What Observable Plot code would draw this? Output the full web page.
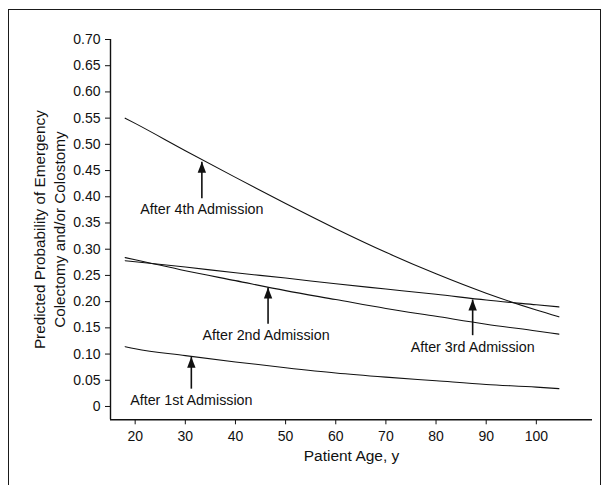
<!DOCTYPE html>
<html>
<head>
<meta charset="utf-8">
<script src="https://cdn.jsdelivr.net/npm/d3@7"></script>
<script src="https://cdn.jsdelivr.net/npm/@observablehq/plot@0.6"></script>
<style>
  html, body { margin: 0; padding: 0; background: #fff; overflow: hidden; }
  #wrap { position: relative; width: 610px; height: 485px; }
  #wrap svg { display: block; }
  #border { position: absolute; left: 8px; top: 9px; width: 593px; height: 600px;
            border: 1.5px solid #1a1a1a; pointer-events: none; box-sizing: border-box; }
</style>
</head>
<body>
<div id="wrap"><div id="border"></div></div>
<script>
// Patient age (years) at which the curves were read
const ages = [18, 20, 30, 40, 50, 60, 70, 80, 90, 100, 104.5];

// Predicted probability per admission curve
const after1st = [0.114, 0.110, 0.097, 0.085, 0.074, 0.064, 0.056, 0.049, 0.042, 0.037, 0.034];
const after2nd = [0.284, 0.280, 0.259, 0.240, 0.221, 0.204, 0.187, 0.172, 0.157, 0.144, 0.138];
const after3rd = [0.278, 0.276, 0.266, 0.255, 0.245, 0.234, 0.224, 0.214, 0.203, 0.194, 0.190];
const after4th = [0.550, 0.540, 0.488, 0.437, 0.387, 0.339, 0.294, 0.253, 0.216, 0.184, 0.171];

const seriesNames = ["After 1st Admission", "After 2nd Admission", "After 3rd Admission", "After 4th Admission"];
const seriesValues = [after1st, after2nd, after3rd, after4th];

// Annotation arrows: age of arrow, value at arrow tip, value at arrow base
const arrowAge   = [31.2, 46.5, 87.3, 33.3];
const arrowTip   = [0.095, 0.227, 0.204, 0.467];
const arrowBase  = [0.034, 0.158, 0.136, 0.397];
const labelAge   = [31.2, 46.1, 87.3, 33.3];
const labelValue = [0.012, 0.135, 0.113, 0.375];

// Axis ticks
const xTicks = [20, 30, 40, 50, 60, 70, 80, 90, 100];
const yTicks = [0, 0.05, 0.10, 0.15, 0.20, 0.25, 0.30, 0.35, 0.40, 0.45, 0.50, 0.55, 0.60, 0.65, 0.70];
const xDomain = [15.08, 111.2];
const yDomain = [-0.0254, 0.70];

const xTitle = "Patient Age, y";
const yTitle = "Predicted Probability of Emergency\nColectomy and/or Colostomy";

const lineData = seriesNames.flatMap((name, i) =>
  ages.map((a, j) => ({series: name, age: a, p: seriesValues[i][j]})));

const arrows = seriesNames.map((name, i) => ({
  name, age: arrowAge[i], tip: arrowTip[i], base: arrowBase[i],
  lx: labelAge[i], ly: labelValue[i]
}));

const arrowHead = {
  draw(context) {
    context.moveTo(0, 0);
    context.lineTo(-4.2, 11);
    context.lineTo(4.2, 11);
    context.closePath();
  }
};

const ink = "#111";

const chart = Plot.plot({
  width: 610,
  height: 485,
  marginLeft: 110,
  marginRight: 18,
  marginTop: 39,
  marginBottom: 65.7,
  style: {fontFamily: "'Liberation Sans', Arial, sans-serif", fontSize: "14px", color: ink, background: "white"},
  x: {domain: xDomain, ticks: xTicks, tickSize: 5, tickPadding: 6, label: null},
  y: {domain: yDomain, ticks: yTicks, tickSize: 5, tickPadding: 5, label: null,
      tickFormat: d => d === 0 ? "0" : d.toFixed(2)},
  marks: [
    Plot.ruleX([xDomain[0]], {stroke: ink, strokeWidth: 1.4}),
    Plot.ruleY([yDomain[0]], {stroke: ink, strokeWidth: 1.4}),
    Plot.line(lineData, {x: "age", y: "p", z: "series", stroke: ink, strokeWidth: 1.1, curve: "monotone-x"}),
    Plot.link(arrows, {x1: "age", x2: "age", y1: "base", y2: "tip", stroke: ink, strokeWidth: 1.6}),
    Plot.dot(arrows, {x: "age", y: "tip", symbol: arrowHead, r: 4, fill: ink, stroke: null}),
    Plot.text(arrows, {x: "lx", y: "ly", text: "name", fontSize: 14.3, fill: ink}),
    Plot.text([yTitle], {frameAnchor: "left", textAnchor: "middle", rotate: -90, dx: -62, fontSize: 15.3, lineHeight: 1.35, fill: ink}),
    Plot.text([xTitle], {frameAnchor: "bottom", dy: 41, fontSize: 15.5, fill: ink})
  ]
});

document.getElementById("wrap").prepend(chart);
</script>
</body>
</html>
